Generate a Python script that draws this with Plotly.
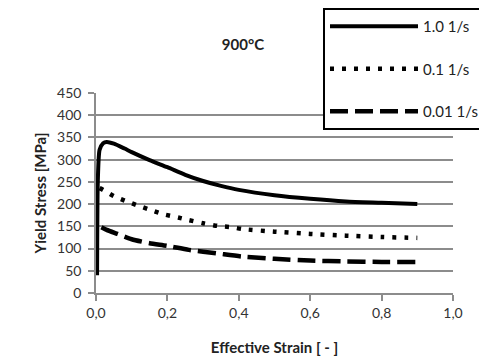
import plotly.graph_objects as go

# Flow curves at 900 °C for three strain rates
strain_fast = [0.003, 0.005, 0.01, 0.02, 0.03, 0.05, 0.08, 0.10, 0.15, 0.20, 0.25, 0.30,
               0.35, 0.40, 0.50, 0.60, 0.70, 0.80, 0.90]
stress_fast = [40, 250, 322, 337, 340, 336, 325, 317, 299, 283, 266, 252,
               241, 232, 220, 212, 206, 203, 200]

strain_mid = [0.01, 0.02, 0.05, 0.09, 0.12, 0.16, 0.19, 0.23, 0.26, 0.30, 0.34, 0.38,
              0.41, 0.50, 0.60, 0.70, 0.80, 0.90]
stress_mid = [236, 232, 218, 205, 196, 185, 177, 170, 164, 157, 151, 148,
              144, 138, 133, 129, 126, 124]

strain_slow = [0.015, 0.03, 0.06, 0.10, 0.15, 0.20, 0.26, 0.34, 0.41, 0.50, 0.60,
               0.70, 0.80, 0.90]
stress_slow = [148, 142, 133, 121, 112, 106, 97, 89, 82, 77, 73, 71, 70, 70]

series_names = ["1.0 1/s", "0.1 1/s", "0.01 1/s"]
x_ticks = [0.0, 0.2, 0.4, 0.6, 0.8, 1.0]
y_ticks = list(range(0, 451, 50))

FONT = "Lato"
GRID = "#8c8c8c"

fig = go.Figure()
styles = [("solid", 4), ("4px,8px", 4.5), ("18px,7px", 4.5)]
data = [(strain_fast, stress_fast), (strain_mid, stress_mid), (strain_slow, stress_slow)]
for i, ((xs, ys), name, (dash, w)) in enumerate(zip(data, series_names, styles)):
    fig.add_trace(go.Scatter(
        x=xs, y=ys, name=name, mode="lines", legendgroup=f"g{i}",
        line=dict(color="black", width=w, dash=dash, shape="spline", smoothing=0.6),
    ))

fig.update_layout(
    width=479, height=358,
    margin=dict(l=96, r=26, t=93, b=65, autoexpand=False),
    plot_bgcolor="white", paper_bgcolor="white",
    separators=",.",
    title=dict(text="<b>900°C</b>", x=243 / 479, xanchor="center",
               y=1 - 45 / 358, yanchor="middle",
               font=dict(family=FONT, size=15, color="#222222")),
    showlegend=True,
    legend=dict(
        x=323 / 479, xanchor="left", y=1 - 8 / 358, yanchor="top",
        xref="container", yref="container",
        bgcolor="white", bordercolor="black", borderwidth=2,
        font=dict(family=FONT, size=15, color="#222222"),
        itemwidth=88, tracegroupgap=20, traceorder="grouped",
    ),
    xaxis=dict(
        range=[0, 1.0], tickvals=x_ticks, tickformat=".1f",
        showgrid=False, showline=True, linecolor=GRID, linewidth=1.5,
        ticks="outside", ticklen=6, tickcolor=GRID, tickwidth=1.5,
        tickfont=dict(family=FONT, size=14, color="#333333"),
        title=dict(text="<b>Effective Strain [ - ]</b>", standoff=23,
                   font=dict(family=FONT, size=15, color="#222222")),
        zeroline=False,
    ),
    yaxis=dict(
        range=[0, 450], tickvals=y_ticks,
        showgrid=True, gridcolor=GRID, gridwidth=1.5,
        showline=True, linecolor=GRID, linewidth=1.5,
        ticks="outside", ticklen=6, tickcolor=GRID, tickwidth=1.5,
        ticklabelstandoff=4,
        tickfont=dict(family=FONT, size=14, color="#333333"),
        title=dict(text="<b>Yield Stress [MPa]</b>", standoff=7,
                   font=dict(family=FONT, size=15, color="#222222")),
        zeroline=False,
    ),
)

fig.write_html("out.html")
